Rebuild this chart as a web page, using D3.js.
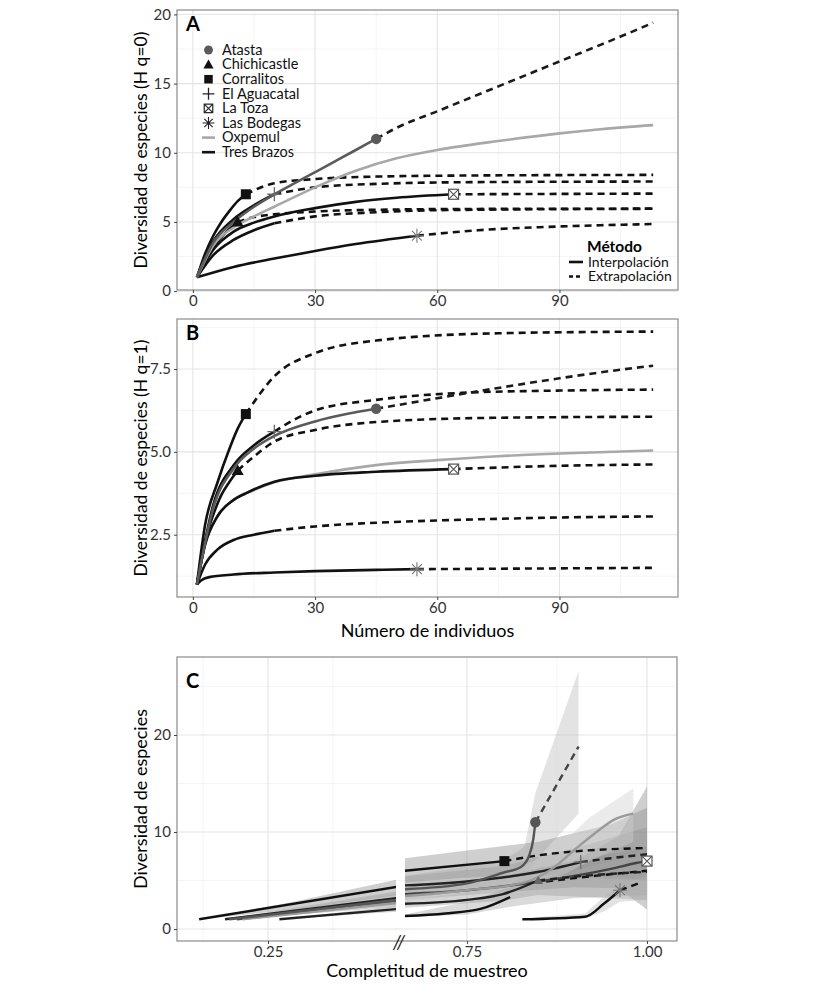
<!DOCTYPE html>
<html><head><meta charset="utf-8">
<script src="https://cdn.jsdelivr.net/npm/d3@7"></script>
<style>
html,body{margin:0;padding:0;background:#fff;}
svg{display:block;font-family:Lato,"Open Sans",sans-serif;}
</style></head>
<body><svg id="chart" width="825" height="989"></svg>
<script>
// ---------------- DATA ----------------
const sites = ["Atasta","Chichicastle","Corralitos","El Aguacatal","La Toza","Las Bodegas","Oxpemul","Tres Brazos"];
const siteShapes = ["circle","triangle","square","plus","squarex","asterisk","none","none"];
const siteColors = ["#5a5a5a","#111111","#111111","#111111","#111111","#111111","#a8a8a8","#111111"];
const extColors = ["#1a1a1a","#111111","#111111","#111111","#111111","#111111","#a8a8a8","#111111"];
const markerColors = ["#5a5a5a","#111111","#111111","#6a6a6a","#555555","#777777","#a8a8a8","#111111"];
const methods = ["Interpolación","Extrapolación"];
const ticksA_x = [0,30,60,90];
const ticksA_y = [0,5,10,15,20];
const ticksB_y = [2.5,5.0,7.5];
const ticksC_x = [0.25,0.75,1.00];
const ticksC_y = [0,10,20];

// Panel A (q=0): [individuals, diversity]
const A_Atasta_int = [[1,1],[5,3.5],[10,5.0],[15,6.1],[20,7.0],[25,7.8],[30,8.6],[35,9.4],[40,10.2],[45,11]];
const A_Atasta_ext = [[45,11],[50,11.8],[60,13.0],[75,14.8],[90,16.6],[105,18.4],[113,19.4]];
const A_Chichicastle_int = [[1,1],[3,2.3],[5,3.2],[7,3.9],[9,4.5],[11,5.0]];
const A_Chichicastle_ext = [[11,5.0],[15,5.35],[20,5.55],[30,5.75],[45,5.88],[70,5.94],[113,5.96]];
const A_Corralitos_int = [[1,1],[3,2.7],[5,4.0],[7,5.0],[9,5.8],[11,6.5],[13,7.0]];
const A_Corralitos_ext = [[13,7.0],[20,7.8],[30,8.1],[45,8.28],[70,8.36],[113,8.4]];
const A_Aguacatal_int = [[1,1],[5,3.6],[10,5.2],[15,6.2],[20,7.0]];
const A_Aguacatal_ext = [[20,7.0],[30,7.5],[45,7.75],[70,7.88],[113,7.92]];
const A_LaToza_int = [[1,1],[5,3.0],[10,4.3],[15,4.95],[20,5.4],[30,6.0],[40,6.45],[50,6.75],[64,7.0]];
const A_LaToza_ext = [[64,7.0],[113,7.05]];
const A_Bodegas_int = [[1,1],[10,1.75],[20,2.35],[30,2.9],[40,3.4],[55,4.0]];
const A_Bodegas_ext = [[55,4.0],[70,4.4],[85,4.62],[100,4.76],[113,4.85]];
const A_Oxpemul_int = [[1,1],[5,3.3],[10,4.6],[15,5.4],[20,6.1],[30,7.5],[40,8.7],[50,9.6],[60,10.2],[75,10.85],[90,11.4],[100,11.7],[113,12.0]];
const A_TresBrazos_int = [[1,1],[5,2.6],[10,3.7],[15,4.4],[20,4.9]];
const A_TresBrazos_ext = [[20,4.9],[30,5.4],[45,5.7],[60,5.85],[113,5.95]];
const A_markers = [[45,11],[11,5.0],[13,7.0],[20,7.0],[64,7.0],[55,4.0]];

// Panel B (q=1)
const B_Atasta_int = [[1,1],[5,3.3],[10,4.5],[15,5.1],[20,5.48],[30,5.92],[38,6.15],[45,6.3]];
const B_Atasta_ext = [[45,6.3],[60,6.62],[75,6.93],[90,7.22],[105,7.48],[113,7.6]];
const B_Chichicastle_int = [[1,1],[3,2.3],[5,3.1],[7,3.7],[9,4.1],[11,4.44]];
const B_Chichicastle_ext = [[11,4.44],[15,4.86],[20,5.31],[30,5.66],[45,5.9],[75,6.03],[113,6.06]];
const B_Corralitos_int = [[1,1],[3,2.8],[6,4.06],[9,5.1],[11,5.7],[13,6.14]];
const B_Corralitos_ext = [[13,6.14],[20,7.28],[30,7.98],[45,8.36],[75,8.58],[113,8.63]];
const B_Aguacatal_int = [[1,1],[5,3.4],[10,4.6],[15,5.2],[20,5.61]];
const B_Aguacatal_ext = [[20,5.61],[25,5.98],[30,6.25],[45,6.57],[66,6.78],[90,6.85],[113,6.88]];
const B_LaToza_int = [[1,1],[3,2.2],[6,3.05],[10,3.55],[13,3.75],[20,4.1],[30,4.28],[45,4.4],[64,4.48]];
const B_LaToza_ext = [[64,4.48],[90,4.58],[113,4.62]];
const B_Bodegas_int = [[1,1],[2,1.12],[4,1.22],[10,1.3],[20,1.36],[30,1.4],[45,1.44],[55,1.46]];
const B_Bodegas_ext = [[55,1.46],[113,1.5]];
const B_Oxpemul_int = [[1,1],[3,2.2],[6,3.05],[10,3.55],[15,3.85],[20,4.08],[30,4.32],[45,4.6],[60,4.75],[75,4.87],[90,4.95],[113,5.04]];
const B_TresBrazos_int = [[1,1],[3,1.6],[6,2.05],[10,2.34],[15,2.5],[20,2.62]];
const B_TresBrazos_ext = [[20,2.62],[30,2.75],[45,2.86],[60,2.93],[75,2.98],[90,3.02],[113,3.05]];
const B_markers = [[45,6.3],[11,4.44],[13,6.14],[20,5.61],[64,4.48],[55,1.46]];

// Panel C: [completeness, diversity]  (ribbons: [completeness, lower, upper])
const C_Corralitos_int = [[0.117,1],[0.5,4.36],[0.664,6.0],[0.802,7.0]];
const C_Corralitos_ext = [[0.802,7.0],[0.85,7.6],[0.9,8.0],[1.0,8.35]];
const C_Aguacatal_int = [[0.167,1],[0.5,3.2],[0.664,4.5],[0.75,4.9],[0.85,5.9],[0.908,6.9]];
const C_Aguacatal_ext = [[0.908,6.9],[0.95,7.3],[1.0,7.7]];
const C_Atasta_int = [[0.175,1],[0.5,3.0],[0.664,4.1],[0.75,4.7],[0.8,5.8],[0.825,6.4],[0.836,7.5],[0.842,9.2],[0.845,11]];
const C_Atasta_ext = [[0.845,11],[0.905,18.8]];
const C_LaToza_int = [[0.19,1],[0.5,2.8],[0.664,3.6],[0.75,4.0],[0.85,4.9],[0.95,6.2],[0.985,6.8],[1.0,7.0]];
const C_Oxpemul_int = [[0.2,1],[0.5,2.7],[0.664,3.4],[0.75,4.0],[0.83,4.8],[0.87,6.3],[0.9,8.2],[0.93,10.0],[0.955,11.3],[0.981,11.9]];
const C_Chichicastle_int = [[0.272,1],[0.5,2.06],[0.664,2.6],[0.75,3.0],[0.8,3.6],[0.849,5.0]];
const C_Chichicastle_ext = [[0.849,5.0],[0.9,5.4],[1.0,5.9]];
const C_TresBrazos_int = [[0.664,1.34],[0.72,1.6],[0.77,2.1],[0.81,3.3]];
const C_TresBrazos_ext = [[0.86,4.9],[0.93,5.5],[1.0,6.0]];
const C_Bodegas_int = [[0.827,1.0],[0.914,1.27],[0.94,2.6],[0.9625,4.0]];
const C_Bodegas_ext = [[0.9625,4.0],[0.988,4.7]];
const C_markers = [[0.845,11],[0.849,5.0],[0.802,7.0],[0.908,6.9],[1.0,7.0],[0.9625,4.0]];

const C_Corralitos_rib = [[0.117,1,1],[0.3,2.0,2.8],[0.5,3.5,5.1],[0.664,4.8,7.3],[0.75,5.3,8.1],[0.85,5.6,9.0],[0.95,5.4,10.8],[1.0,5.0,12.5]];
const C_Aguacatal_rib = [[0.167,1,1],[0.5,2.6,3.9],[0.664,3.6,5.4],[0.8,4.5,6.5],[0.908,5.3,8.5],[1.0,5.0,10.5]];
const C_Atasta_rib = [[0.175,1,1],[0.5,2.5,3.6],[0.664,3.0,5.5],[0.8,4.5,7.0],[0.83,5.5,8.5],[0.845,7.0,14.0],[0.905,11.9,26.6]];
const C_LaToza_rib = [[0.19,1,1],[0.5,2.3,3.3],[0.664,3.0,4.3],[0.8,3.8,5.5],[0.9,4.3,7.0],[0.96,4.2,9.5],[1.0,2.0,14.7]];
const C_Oxpemul_rib = [[0.664,2.8,4.2],[0.8,3.8,5.6],[0.87,5.0,8.0],[0.92,7.0,11.5],[0.981,9.0,14.5]];
const C_Chichicastle_rib = [[0.272,1,1],[0.5,1.8,2.4],[0.664,2.2,3.0],[0.8,2.9,4.3],[0.849,3.5,6.3],[1.0,3.0,8.5]];
const C_TresBrazos_rib = [[0.664,1.2,1.5],[0.75,1.5,2.8],[0.81,2.3,4.3],[0.9,3.2,6.0],[1.0,3.5,8.0]];
const C_Bodegas_rib = [[0.827,0.9,1.1],[0.914,1.1,1.6],[0.94,1.8,3.3],[0.9625,2.8,4.6],[1.0,3.0,5.5]];

// ---------------- DRAW ----------------
const svg = d3.select("#chart");
const FONT = 'Lato, "Open Sans", sans-serif';
const DASH = "7,5";
const LW = 2.6;

function panelFrame(x0,x1,y0,y1){ return {x0,x1,y0,y1}; }
function drawGrid(g, P, xs, ys, xMajor, xMinor, yMajor, yMinor){
  xMinor.forEach(v=>g.append("line").attr("x1",xs(v)).attr("x2",xs(v)).attr("y1",P.y0).attr("y2",P.y1).attr("stroke","#f2f2f2").attr("stroke-width",0.8));
  yMinor.forEach(v=>g.append("line").attr("y1",ys(v)).attr("y2",ys(v)).attr("x1",P.x0).attr("x2",P.x1).attr("stroke","#f2f2f2").attr("stroke-width",0.8));
  xMajor.forEach(v=>g.append("line").attr("x1",xs(v)).attr("x2",xs(v)).attr("y1",P.y0).attr("y2",P.y1).attr("stroke","#e4e4e4").attr("stroke-width",1.1));
  yMajor.forEach(v=>g.append("line").attr("y1",ys(v)).attr("y2",ys(v)).attr("x1",P.x0).attr("x2",P.x1).attr("stroke","#e4e4e4").attr("stroke-width",1.1));
}
function drawBorder(P){
  svg.append("rect").attr("x",P.x0).attr("y",P.y0).attr("width",P.x1-P.x0).attr("height",P.y1-P.y0)
    .attr("fill","none").attr("stroke","#8a8a8a").attr("stroke-width",1.2);
}
function yAxis(P, ys, ticks, fmt){
  const ax = d3.axisLeft(ys).tickValues(ticks).tickSize(3).tickPadding(3).tickFormat(fmt);
  const g = svg.append("g").attr("transform",`translate(${P.x0},0)`).call(ax);
  g.select(".domain").remove();
  g.selectAll("line").attr("stroke","#444");
  g.selectAll("text").attr("font-family",FONT).attr("font-size",15).attr("fill","#333");
}
function xAxis(P, xs, ticks, fmt){
  const ax = d3.axisBottom(xs).tickValues(ticks).tickSize(3).tickPadding(2).tickFormat(fmt);
  const g = svg.append("g").attr("transform",`translate(0,${P.y1})`).call(ax);
  g.select(".domain").remove();
  g.selectAll("line").attr("stroke","#444");
  g.selectAll("text").attr("font-family",FONT).attr("font-size",15).attr("fill","#333");
}
function shape(g, type, cx, cy, color, s){
  s = s||1;
  if(type==="circle") g.append("circle").attr("cx",cx).attr("cy",cy).attr("r",5.2*s).attr("fill",color);
  else if(type==="triangle") g.append("path").attr("d",`M${cx},${cy-6*s}L${cx+6*s},${cy+4.5*s}L${cx-6*s},${cy+4.5*s}Z`).attr("fill",color);
  else if(type==="square") g.append("rect").attr("x",cx-5*s).attr("y",cy-5*s).attr("width",10*s).attr("height",10*s).attr("fill",color);
  else if(type==="plus") g.append("path").attr("d",`M${cx-7*s},${cy}H${cx+7*s}M${cx},${cy-7*s}V${cy+7*s}`).attr("stroke",color).attr("stroke-width",1.3).attr("fill","none");
  else if(type==="squarex"){
    g.append("rect").attr("x",cx-5*s).attr("y",cy-5*s).attr("width",10*s).attr("height",10*s).attr("fill","#fff").attr("stroke",color).attr("stroke-width",1.2);
    g.append("path").attr("d",`M${cx-5*s},${cy-5*s}L${cx+5*s},${cy+5*s}M${cx+5*s},${cy-5*s}L${cx-5*s},${cy+5*s}`).attr("stroke",color).attr("stroke-width",1.1);
  }
  else if(type==="asterisk"){
    const r=7*s; let d="";
    [0,45,90,135].forEach(a=>{const t=a*Math.PI/180; d+=`M${cx-r*Math.cos(t)},${cy-r*Math.sin(t)}L${cx+r*Math.cos(t)},${cy+r*Math.sin(t)}`;});
    g.append("path").attr("d",d).attr("stroke",color).attr("stroke-width",1.1).attr("fill","none");
  }
}
function drawLine(g, data, xs, ys, color, dashed, width){
  const line = d3.line().x(d=>xs(d[0])).y(d=>ys(d[1])).curve(d3.curveMonotoneX);
  g.append("path").datum(data).attr("d",line).attr("fill","none").attr("stroke",color)
    .attr("stroke-width",width||LW).attr("stroke-dasharray",dashed?DASH:null).attr("stroke-linecap","butt");
}

// ===== Panel A =====
const PA = panelFrame(177,678,10,290);
const xA = d3.scaleLinear().domain([-3.9,119.1]).range([PA.x0,PA.x1]);
const yA = d3.scaleLinear().domain([0.08,20.32]).range([PA.y1,PA.y0]);
const gA = svg.append("g");
drawGrid(gA, PA, xA, yA, ticksA_x, [15,45,75,105], ticksA_y, [2.5,7.5,12.5,17.5]);
const A_int = [A_Atasta_int,A_Chichicastle_int,A_Corralitos_int,A_Aguacatal_int,A_LaToza_int,A_Bodegas_int,A_Oxpemul_int,A_TresBrazos_int];
const A_ext = [A_Atasta_ext,A_Chichicastle_ext,A_Corralitos_ext,A_Aguacatal_ext,A_LaToza_ext,A_Bodegas_ext,null,A_TresBrazos_ext];
const order = [7,5,4,1,3,2,6,0];
order.forEach(i=>{ if(A_ext[i]) drawLine(gA,A_ext[i],xA,yA,extColors[i],true); });
order.forEach(i=>drawLine(gA,A_int[i],xA,yA,siteColors[i],false));
A_markers.forEach((m,i)=>shape(gA,siteShapes[i],xA(m[0]),yA(m[1]),markerColors[i],1));
drawBorder(PA);
yAxis(PA,yA,ticksA_y,d3.format("d"));
xAxis(PA,xA,ticksA_x,d3.format("d"));
svg.append("text").attr("x",186).attr("y",31).attr("font-family",FONT).attr("font-weight","bold").attr("font-size",20).text("A");
svg.append("text").attr("transform",`translate(147,${(PA.y0+PA.y1)/2}) rotate(-90)`).attr("text-anchor","middle")
  .attr("font-family",FONT).attr("font-size",17.5).text("Diversidad de especies (H q=0)");

// Legend sites
const legG = svg.append("g");
sites.forEach((s,i)=>{
  const y = 50 + i*14.6;
  if(siteShapes[i]==="none") legG.append("line").attr("x1",202).attr("x2",215).attr("y1",y).attr("y2",y).attr("stroke",siteColors[i]).attr("stroke-width",LW);
  else shape(legG, siteShapes[i], 208.5, y, i===3||i===4||i===5?"#222":siteColors[i], 0.85);
  legG.append("text").attr("x",222).attr("y",y+4.8).attr("font-family",FONT).attr("font-size",14.5).attr("fill","#111").text(s);
});
// Legend method
svg.append("text").attr("x",587).attr("y",252).attr("font-family",FONT).attr("font-weight","bold").attr("font-size",15.5).text("Método");
methods.forEach((m,i)=>{
  const y = 262 + i*14.5;
  legG.append("line").attr("x1",569).attr("x2",583).attr("y1",y).attr("y2",y).attr("stroke","#111").attr("stroke-width",LW)
    .attr("stroke-dasharray", i===1?"4,3":null);
  legG.append("text").attr("x",588).attr("y",y+4.8).attr("font-family",FONT).attr("font-size",14).attr("fill","#111").text(m);
});

// ===== Panel B =====
const PB = panelFrame(177,678,319,597);
const xB = d3.scaleLinear().domain([-3.9,119.1]).range([PB.x0,PB.x1]);
const yB = d3.scaleLinear().domain([0.62,9.01]).range([PB.y1,PB.y0]);
const gB = svg.append("g");
drawGrid(gB, PB, xB, yB, ticksA_x, [15,45,75,105], ticksB_y, [1.25,3.75,6.25,8.75]);
const B_int = [B_Atasta_int,B_Chichicastle_int,B_Corralitos_int,B_Aguacatal_int,B_LaToza_int,B_Bodegas_int,B_Oxpemul_int,B_TresBrazos_int];
const B_ext = [B_Atasta_ext,B_Chichicastle_ext,B_Corralitos_ext,B_Aguacatal_ext,B_LaToza_ext,B_Bodegas_ext,null,B_TresBrazos_ext];
order.forEach(i=>{ if(B_ext[i]) drawLine(gB,B_ext[i],xB,yB,extColors[i],true); });
[7,5,6,4,1,3,2,0].forEach(i=>drawLine(gB,B_int[i],xB,yB,siteColors[i],false));
B_markers.forEach((m,i)=>shape(gB,siteShapes[i],xB(m[0]),yB(m[1]),markerColors[i],1));
drawBorder(PB);
yAxis(PB,yB,ticksB_y,d3.format(".1f"));
xAxis(PB,xB,ticksA_x,d3.format("d"));
svg.append("text").attr("x",186).attr("y",340).attr("font-family",FONT).attr("font-weight","bold").attr("font-size",20).text("B");
svg.append("text").attr("transform",`translate(147,${(PB.y0+PB.y1)/2}) rotate(-90)`).attr("text-anchor","middle")
  .attr("font-family",FONT).attr("font-size",17.5).text("Diversidad de especies (H q=1)");
svg.append("text").attr("x",(PB.x0+PB.x1)/2).attr("y",637).attr("text-anchor","middle")
  .attr("font-family",FONT).attr("font-size",18).text("Número de individuos");

// ===== Panel C =====
const PC = panelFrame(177,677,657,941);
const xC = d3.scaleLinear().domain([0.25,0.5,0.664,1.0]).range([268,397.4,405,647]);
const yC = d3.scaleLinear().domain([0,10]).range([929,832]);
const gC = svg.append("g");
drawGrid(gC, PC, xC, yC, [0.25,0.75,1.0], [0.125,0.375,0.875], ticksC_y, [5,15,25]);
const defs = svg.append("defs");
defs.append("clipPath").attr("id","clipL").append("rect").attr("x",PC.x0).attr("y",PC.y0).attr("width",396-PC.x0).attr("height",PC.y1-PC.y0);
defs.append("clipPath").attr("id","clipR").append("rect").attr("x",404).attr("y",PC.y0).attr("width",PC.x1-404).attr("height",PC.y1-PC.y0);
const C_ribs = [C_Atasta_rib,C_Chichicastle_rib,C_Corralitos_rib,C_Aguacatal_rib,C_LaToza_rib,C_Bodegas_rib,C_Oxpemul_rib,C_TresBrazos_rib];
const ribFill = ["#bdbdbd","#9a9a9a","#8c8c8c","#9a9a9a","#8c8c8c","#bdbdbd","#cfcfcf","#a8a8a8"];
const C_int = [C_Atasta_int,C_Chichicastle_int,C_Corralitos_int,C_Aguacatal_int,C_LaToza_int,C_Bodegas_int,C_Oxpemul_int,C_TresBrazos_int];
const C_ext = [C_Atasta_ext,C_Chichicastle_ext,C_Corralitos_ext,C_Aguacatal_ext,null,C_Bodegas_ext,null,C_TresBrazos_ext];
const C_lineCol = ["#555555","#222222","#111111","#222222","#444444","#111111","#9a9a9a","#111111"];
const C_markCol = ["#555555","#666666","#111111","#6a6a6a","#555555","#777777","#a8a8a8","#111111"];
["clipL","clipR"].forEach(cid=>{
  const g = gC.append("g").attr("clip-path",`url(#${cid})`);
  const area = d3.area().x(d=>xC(d[0])).y0(d=>yC(d[1])).y1(d=>yC(d[2])).curve(d3.curveLinear);
  C_ribs.forEach((r,i)=>{
    const data = cid==="clipL" ? r.filter(d=>d[0]<=0.5) : r.filter(d=>d[0]>=0.664);
    if(data.length>1) g.append("path").datum(data).attr("d",area).attr("fill",ribFill[i]).attr("fill-opacity",0.42);
  });
  const line = d3.line().x(d=>xC(d[0])).y(d=>yC(d[1])).curve(d3.curveMonotoneX);
  [7,5,4,1,3,2,6,0].forEach(i=>{
    const data = cid==="clipL" ? C_int[i].filter(d=>d[0]<=0.5) : C_int[i].filter(d=>d[0]>=0.664);
    if(data.length>1) g.append("path").datum(data).attr("d",line).attr("fill","none").attr("stroke",C_lineCol[i]).attr("stroke-width",2.4);
    if(cid==="clipR" && C_ext[i]) g.append("path").datum(C_ext[i]).attr("d",line).attr("fill","none").attr("stroke",i===0?"#444":C_lineCol[i]).attr("stroke-width",2.4).attr("stroke-dasharray",DASH);
  });
  if(cid==="clipR") C_markers.forEach((m,i)=>shape(g,siteShapes[i],xC(m[0]),yC(m[1]),C_markCol[i],i===1?0.8:1));
});
drawBorder(PC);
yAxis(PC,yC,ticksC_y,d3.format("d"));
xAxis(PC,xC,ticksC_x,d3.format(".2f"));
svg.append("text").attr("x",399).attr("y",949).attr("text-anchor","middle").attr("font-family",FONT).attr("font-style","italic").attr("font-size",19).attr("fill","#222").text("//");
svg.append("text").attr("x",186).attr("y",688).attr("font-family",FONT).attr("font-weight","bold").attr("font-size",20).text("C");
svg.append("text").attr("transform",`translate(147,${(PC.y0+PC.y1)/2}) rotate(-90)`).attr("text-anchor","middle")
  .attr("font-family",FONT).attr("font-size",18).text("Diversidad de especies");
svg.append("text").attr("x",(PC.x0+PC.x1)/2).attr("y",977).attr("text-anchor","middle")
  .attr("font-family",FONT).attr("font-size",18).text("Completitud de muestreo");
</script>
</body></html>
